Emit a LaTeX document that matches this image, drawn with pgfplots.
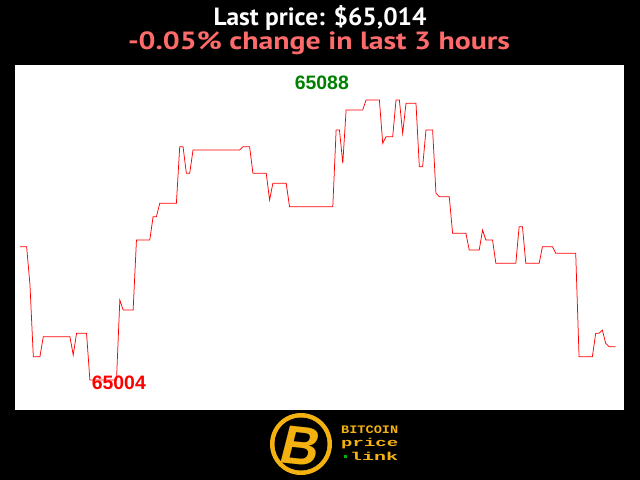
\documentclass[border=0pt]{standalone}
\usepackage{graphicx}
\usepackage{pgfplots}
\pgfplotsset{compat=1.18}
\usepackage{fontspec}
\setmainfont{PT Sans}
\newfontfamily\labfont{Liberation Sans}
\newfontfamily\logofont{Liberation Mono}
\definecolor{salmon}{RGB}{255,107,107}
\definecolor{gold}{RGB}{244,178,16}
\definecolor{dgreen}{RGB}{0,128,0}
\begin{document}
\begin{tikzpicture}
\fill[black] (0bp,0bp) rectangle (640bp,-480bp);
\fill[white] (15bp,-65bp) rectangle (624.3bp,-410bp);
\node[font=\bfseries\fontsize{25}{25}\selectfont, text=white, anchor=base, inner sep=0] at (320bp,-25bp) {\resizebox{213bp}{\height}{Last price: \$65,014}};
\node[font=\bfseries\fontsize{25}{25}\selectfont, text=salmon, anchor=base, inner sep=0] at (319bp,-49.3bp) {\resizebox{382bp}{\height}{-0.05\% change in last 3 hours}};
% logo
\fill[gold] (301bp,-444bp) circle (31bp);
\fill[black] (301bp,-444bp) circle (26.5bp);
\node[font=\labfont\bfseries\fontsize{54}{54}\selectfont, text=gold, xslant=0.15, rotate=-6, inner sep=0] at (301bp,-446bp) {B};
\node[font=\logofont\bfseries\fontsize{11.5}{11.5}\selectfont, text=gold, anchor=base west, inner sep=0] at (341bp,-433bp) {\resizebox{57bp}{\height}{BITCOIN}};
\node[font=\logofont\bfseries\fontsize{11.5}{11.5}\selectfont, text=gold, anchor=base west, inner sep=0] at (341bp,-446.5bp) {\resizebox{57bp}{\height}{price}};
\node[font=\logofont\bfseries\fontsize{11.5}{11.5}\selectfont, text=gold, anchor=base west, inner sep=0] at (350bp,-460bp) {\resizebox{48bp}{\height}{link}};
\fill[green!70!black] (344bp,-455bp) rectangle (347.3bp,-458.3bp);
\begin{axis}[at={(15bp,-410bp)}, anchor=south west, width=609.3bp, height=345bp,
  scale only axis, hide axis, clip=false,
  xmin=-1.5, xmax=181.6, ymin=64995, ymax=65098.5]
\addplot[red, line width=0.75pt, mark=none] coordinates {
(0,65044) (2,65044) (3,65032.5) (4,65011) (6,65011) (7,65017) (15,65017)
(16,65011.5) (17,65018) (20,65018) (21,65004) (29,65004) (30,65028) (31,65025)
(34,65025) (35,65046) (39,65046) (40,65053) (41,65053) (42,65057) (47,65057)
(48,65074) (49,65074) (50,65066) (51,65066) (52,65073) (66,65073) (67,65074)
(69,65074) (70,65066) (74,65066) (75,65058) (76,65063) (80,65063) (81,65056)
(94,65056) (95,65079) (96,65079) (97,65069) (98,65085) (103,65085) (104,65088)
(108,65088) (109,65075) (110,65077) (112,65077) (113,65088) (114,65088)
(115,65078) (116,65087) (119,65087) (120,65068) (121,65068) (122,65079)
(124,65079) (125,65060) (126,65059) (129,65059) (130,65048) (134,65048)
(135,65043) (138,65043) (139,65049) (140,65046) (142,65046) (143,65039)
(149,65039) (150,65050) (151,65050) (152,65039) (156,65039) (157,65044)
(160,65044) (161,65042) (167,65042) (168,65011) (172,65011) (173,65018)
(174,65018) (175,65019) (176,65015) (177,65014) (179,65014)
};
\node[font=\labfont\bfseries\fontsize{19.5}{19.5}\selectfont, text=dgreen, inner sep=0] at (axis cs:90.7,65093.1) {65088};
\node[font=\labfont\bfseries\fontsize{19.5}{19.5}\selectfont, text=red, inner sep=0] at (axis cs:29.7,65003.1) {65004};
\end{axis}
\end{tikzpicture}
\end{document}
